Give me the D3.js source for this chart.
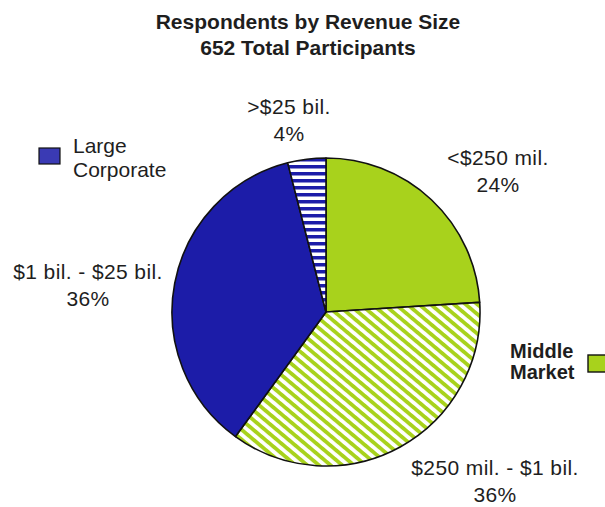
<!DOCTYPE html>
<html>
<head>
<meta charset="utf-8">
<script src="https://cdn.jsdelivr.net/npm/d3@7"></script>
<style>
  html, body { margin: 0; padding: 0; background: #fff; }
  svg { display: block; }
  text { font-family: "Liberation Sans", Arial, sans-serif; fill: #1e1e1e; }
</style>
</head>
<body>
<svg id="chart" width="605" height="507"></svg>
<script>
// Revenue bands, in drawing order clockwise from 12 o'clock
const segments = ["<$250 mil.", "$250 mil. - $1 bil.", "$1 bil. - $25 bil.", ">$25 bil."];
const shares = [24, 36, 36, 4];
const fills = ["solidGreen", "hatchGreen", "solidBlue", "stripeBlue"];
const titleLines = ["Respondents by Revenue Size", "652 Total Participants"];
const legendNames = [["Large", "Corporate"], ["Middle", "Market"]];

const GREEN = "#a8d21c";
const BLUE = "#1c1ca8";

const svg = d3.select("#chart");
const defs = svg.append("defs");

// diagonal green hatch, falling left to right
const hg = defs.append("pattern").attr("id", "hatchGreen")
  .attr("patternUnits", "userSpaceOnUse").attr("width", 7.5).attr("height", 7.5)
  .attr("patternTransform", "rotate(40)");
hg.append("rect").attr("width", 7.5).attr("height", 7.5).attr("fill", "#fff");
hg.append("rect").attr("width", 7.5).attr("height", 3.8).attr("fill", GREEN);

// horizontal blue stripes
const sb = defs.append("pattern").attr("id", "stripeBlue")
  .attr("patternUnits", "userSpaceOnUse").attr("width", 8).attr("height", 7);
sb.append("rect").attr("width", 8).attr("height", 7).attr("fill", "#fff");
sb.append("rect").attr("width", 8).attr("height", 3.5).attr("fill", BLUE);

const fillFor = { solidGreen: GREEN, hatchGreen: "url(#hatchGreen)", solidBlue: BLUE, stripeBlue: "url(#stripeBlue)" };

// title
svg.append("g").selectAll("text").data(titleLines).join("text")
  .attr("x", 308).attr("y", (d, i) => 29 + i * 26)
  .attr("text-anchor", "middle")
  .style("font-size", "21px").style("font-weight", "bold")
  .text(d => d);

// pie
const cx = 326, cy = 312, r = 154;
const pie = d3.pie().sort(null).value(d => d.v);
const arc = d3.arc().innerRadius(0).outerRadius(r);
const data = segments.map((s, i) => ({ name: s, v: shares[i], fill: fills[i] }));

const g = svg.append("g").attr("transform", `translate(${cx},${cy})`);
g.selectAll("path").data(pie(data)).join("path")
  .attr("d", arc)
  .attr("fill", d => fillFor[d.data.fill])
  .attr("stroke", "#111").attr("stroke-width", 1.6)
  .attr("stroke-linejoin", "round");

// slice labels (name + percent)
const labelPos = [[498, 165], [495, 475], [88, 279], [289, 114]];
const lg = svg.append("g");
data.forEach((d, i) => {
  const [x, y] = labelPos[i];
  const t = lg.append("text").attr("x", x).attr("y", y).attr("text-anchor", "middle")
    .style("font-size", "21px").style("letter-spacing", "0.4px");
  t.append("tspan").attr("x", x).text(d.name);
  t.append("tspan").attr("x", x).attr("dy", 27).text(d.v + "%");
});

// legend
const leg = svg.append("g");
leg.append("rect").attr("x", 39).attr("y", 148).attr("width", 21).attr("height", 16)
  .attr("fill", "#3a3ab4").attr("stroke", "#111").attr("stroke-width", 1.2);
leg.append("text").attr("x", 73).attr("y", 153).style("font-size", "21px")
  .selectAll("tspan").data(legendNames[0]).join("tspan")
  .attr("x", 73).attr("dy", (d, i) => i ? 24 : 0).text(d => d);

leg.append("rect").attr("x", 588).attr("y", 355).attr("width", 22).attr("height", 17)
  .attr("fill", GREEN).attr("stroke", "#111").attr("stroke-width", 1.4);
leg.append("text").attr("x", 510).attr("y", 358)
  .style("font-size", "20px").style("font-weight", "bold")
  .selectAll("tspan").data(legendNames[1]).join("tspan")
  .attr("x", 510).attr("dy", (d, i) => i ? 21 : 0).text(d => d);
</script>
</body>
</html>
